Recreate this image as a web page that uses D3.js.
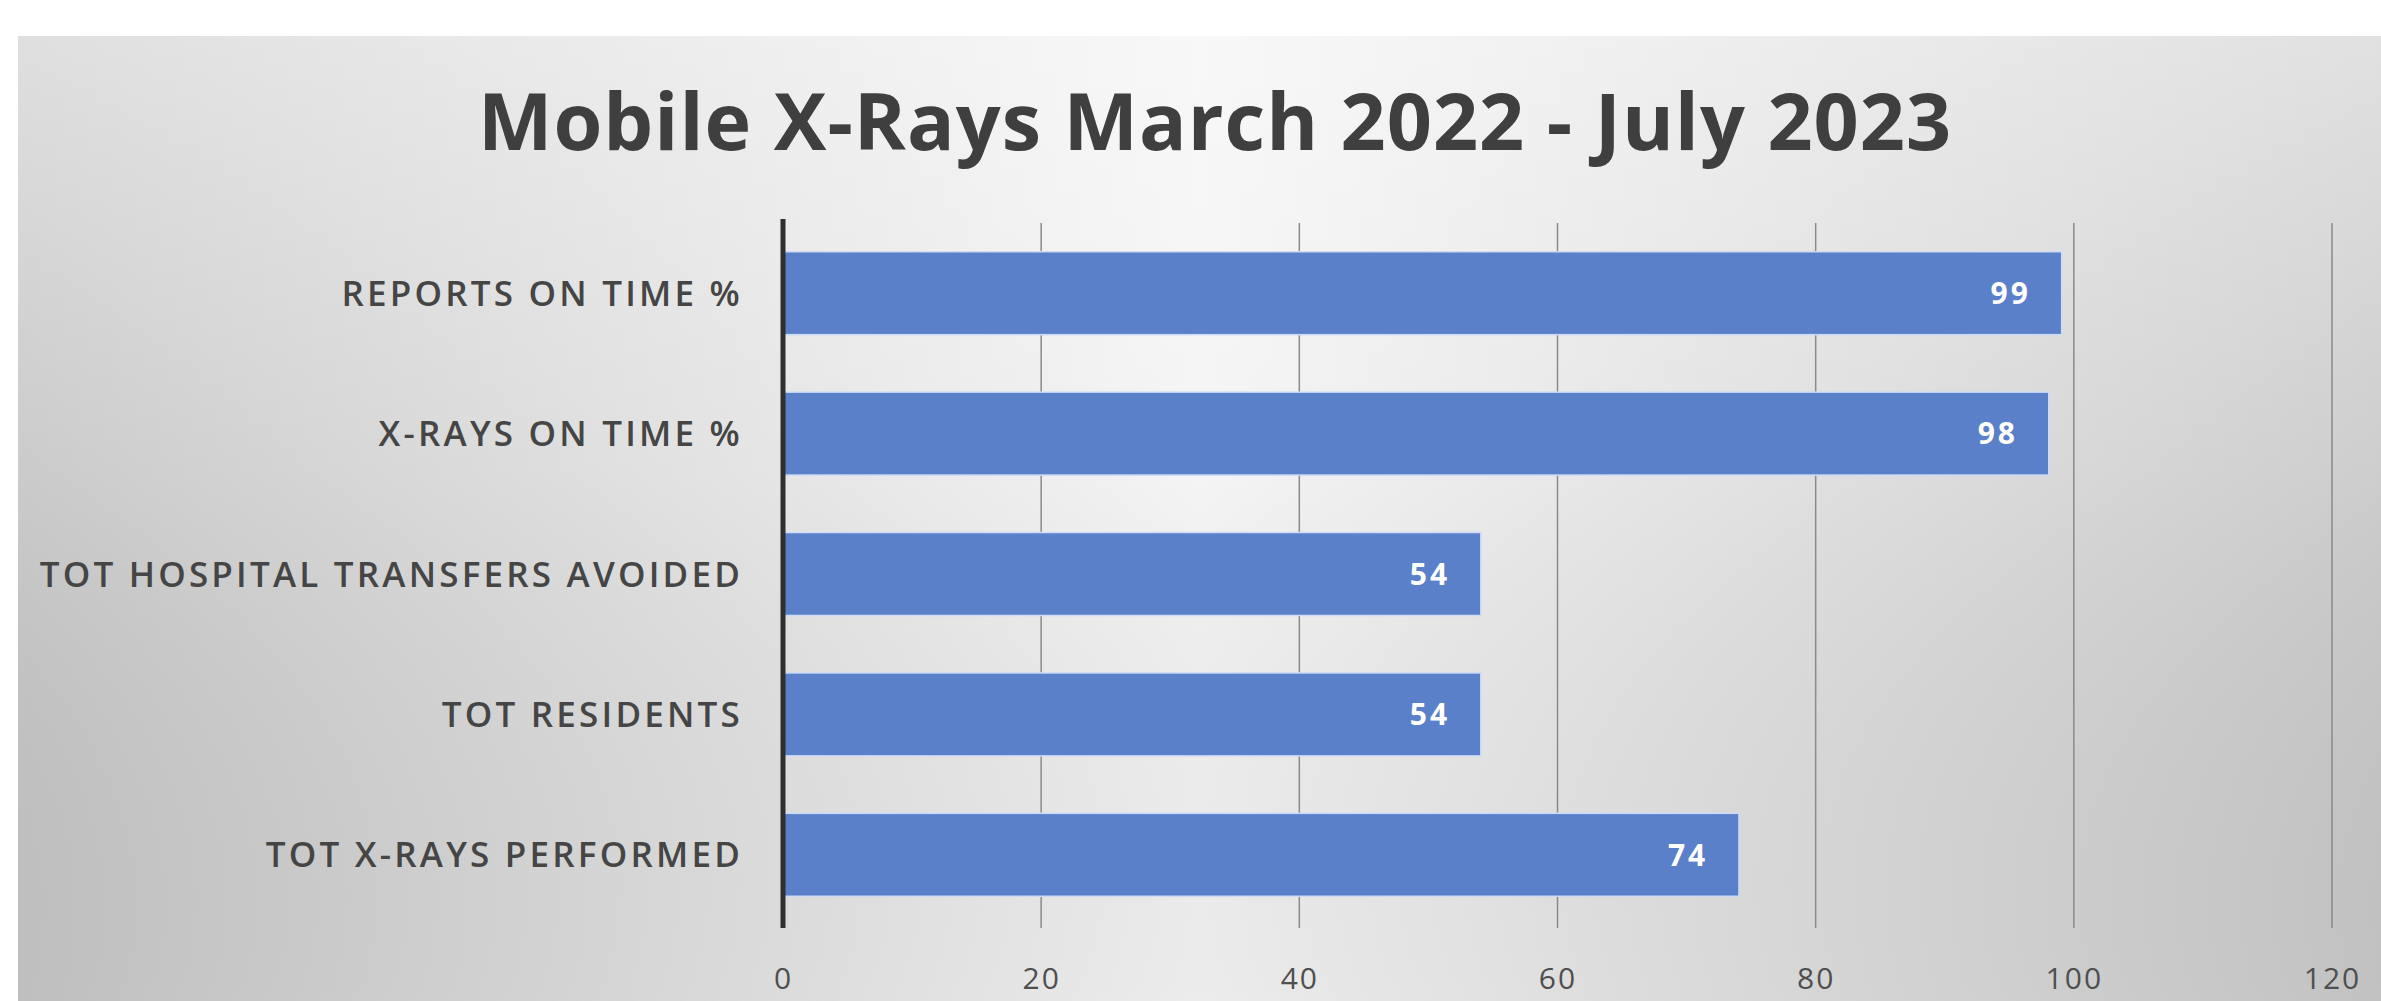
<!DOCTYPE html>
<html>
<head>
<meta charset="utf-8">
<script src="https://cdn.jsdelivr.net/npm/d3@7"></script>
<style>
  body { margin: 0; background: #fff; }
  svg { display: block; }
</style>
</head>
<body>
<div id="chart"></div>
<script>
var width = 2381, height = 1001;

// chart data
var categories = ["REPORTS ON TIME %", "X-RAYS ON TIME %", "TOT HOSPITAL TRANSFERS AVOIDED", "TOT RESIDENTS", "TOT X-RAYS PERFORMED"];
var values = [99, 98, 54, 54, 74];
var xTicks = [0, 20, 40, 60, 80, 100, 120];
var title = "Mobile X-Rays March 2022 - July 2023";

var svg = d3.select("#chart")
            .append("svg")
            .attr("width", width)
            .attr("height", height);

var defs = svg.append("defs");

// background gradient, light in the middle, grey at the sides
var bg = defs.append("linearGradient").attr("id", "bg").attr("x1", "0").attr("x2", "1").attr("y1", "0").attr("y2", "0");
bg.append("stop").attr("offset", "0%").attr("stop-color", "#c5c5c5");
bg.append("stop").attr("offset", "50%").attr("stop-color", "#f3f3f3");
bg.append("stop").attr("offset", "100%").attr("stop-color", "#c8c8c8");

var shade = defs.append("linearGradient").attr("id", "shade").attr("x1", "0").attr("x2", "0").attr("y1", "0").attr("y2", "1");
shade.append("stop").attr("offset", "0%").attr("stop-color", "#ffffff").attr("stop-opacity", 0.45);
shade.append("stop").attr("offset", "45%").attr("stop-color", "#ffffff").attr("stop-opacity", 0.1);
shade.append("stop").attr("offset", "100%").attr("stop-color", "#000000").attr("stop-opacity", 0.03);

svg.append("rect").attr("x", 18).attr("y", 36).attr("width", width - 18).attr("height", height - 36).attr("fill", "url(#bg)");
svg.append("rect").attr("x", 18).attr("y", 36).attr("width", width - 18).attr("height", height - 36).attr("fill", "url(#shade)");

// scales
var x = d3.scaleLinear()
          .domain([0, 120])
          .range([783, 2332]);

var y = d3.scaleBand()
          .domain(categories)
          .range([223, 925])
          .paddingInner(0.42)
          .paddingOuter(0.21);

// title
svg.append("text")
   .attr("x", 1215)
   .attr("y", 150)
   .attr("text-anchor", "middle")
   .style("font-family", "'Open Sans', sans-serif")
   .style("font-weight", "bold")
   .style("font-size", "79px")
   .style("letter-spacing", "1px")
   .style("fill", "#3f3f3f")
   .text(title);

// gridlines
svg.append("g")
   .selectAll("line")
   .data(xTicks.slice(1))
   .enter()
   .append("line")
   .attr("x1", function(d) { return x(d); })
   .attr("x2", function(d) { return x(d); })
   .attr("y1", 223)
   .attr("y2", 928)
   .attr("stroke", "#8a8a8a")
   .attr("stroke-width", 1.5);

// bars
svg.append("g")
   .selectAll("rect")
   .data(values)
   .enter()
   .append("rect")
   .attr("x", x(0))
   .attr("y", function(d, i) { return y(categories[i]); })
   .attr("width", function(d) { return x(d) - x(0); })
   .attr("height", y.bandwidth())
   .attr("fill", "#5a80c9")
   .attr("stroke", "#cddbf6")
   .attr("stroke-width", 3)
   .style("paint-order", "stroke");

// value labels
svg.append("g")
   .selectAll("text")
   .data(values)
   .enter()
   .append("text")
   .attr("x", function(d) { return x(d) - 30; })
   .attr("y", function(d, i) { return y(categories[i]) + y.bandwidth() / 2; })
   .attr("dy", "0.36em")
   .attr("text-anchor", "end")
   .style("font-family", "'Open Sans', sans-serif")
   .style("font-weight", "bold")
   .style("font-size", "30px")
   .style("letter-spacing", "3px")
   .style("fill", "#ffffff")
   .text(function(d) { return d; });

// category axis
var yAxis = svg.append("g")
   .attr("transform", "translate(" + x(0) + ",0)")
   .call(d3.axisLeft(y).tickSize(0).tickPadding(40));
yAxis.select(".domain").remove();
yAxis.selectAll("text")
   .attr("dy", "0.36em")
   .style("font-family", "'Open Sans', sans-serif")
   .style("font-weight", "600")
   .style("font-size", "35px")
   .style("letter-spacing", "3.2px")
   .style("fill", "#454545");

svg.append("line")
   .attr("x1", x(0)).attr("x2", x(0))
   .attr("y1", 219).attr("y2", 928)
   .attr("stroke", "#2f2f2f")
   .attr("stroke-width", 5);

// value axis labels
var xAxis = svg.append("g")
   .attr("transform", "translate(0,958)")
   .call(d3.axisBottom(x).tickValues(xTicks).tickSize(0).tickPadding(10));
xAxis.select(".domain").remove();
xAxis.selectAll("text")
   .style("font-family", "'Open Sans', sans-serif")
   .style("font-size", "30px")
   .style("letter-spacing", "2px")
   .style("fill", "#4f4f4f");
</script>
</body>
</html>
